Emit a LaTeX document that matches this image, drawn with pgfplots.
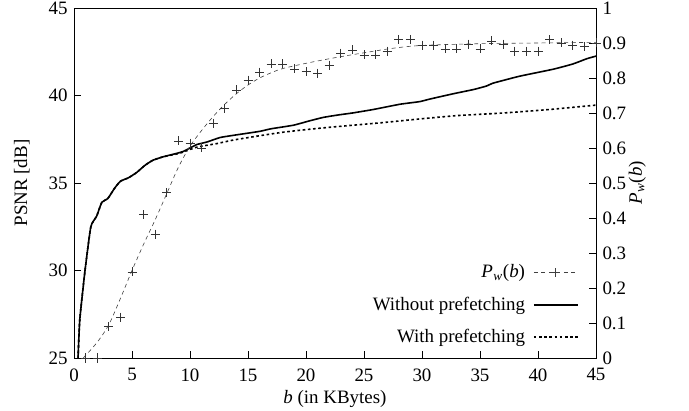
\documentclass[border=0pt]{standalone}
\usepackage{fontspec}
\setmainfont{Liberation Serif}
\usepackage{pgfplots}
\pgfplotsset{compat=1.18}
\newcommand{\Pw}{\textit{P}\kern0.3pt\textsubscript{\textit{w}}\kern0.3pt(\textit{b})}

% PSNR without prefetching
\pgfplotstableread{
x y
0.35 25
0.5 27.2
0.95 30.0
1.45 32.5
1.95 33.1
2.4 33.9
2.9 34.1
3.5 34.7
4 35.1
4.7 35.3
5.4 35.6
6.1 36.0
6.8 36.3
7.7 36.5
8.9 36.7
9.4 36.8
10 37.0
10.6 37.2
11.5 37.35
12.6 37.6
14 37.75
16 37.95
17 38.1
18.9 38.3
20.3 38.55
21.5 38.75
22.9 38.9
24 39.0
25.8 39.2
28.1 39.5
29.8 39.65
30.7 39.8
32.7 40.1
34.5 40.35
35.6 40.55
36.1 40.7
38.4 41.1
41.3 41.5
43 41.8
44.2 42.1
45 42.25
}\without

% PSNR with prefetching
\pgfplotstableread{
x y
0.35 25
0.5 27.2
0.95 30.0
1.45 32.5
1.95 33.1
2.4 33.9
2.9 34.1
3.5 34.7
4 35.1
4.7 35.3
5.4 35.6
6.1 36.0
6.8 36.3
7.7 36.5
9.1 36.7
10.6 37.05
12.3 37.25
13.7 37.45
16 37.7
18 37.9
20 38.05
22.3 38.2
26.6 38.45
29.8 38.66
33 38.85
37 39.0
41 39.2
45 39.45
}\with

% P_w(b) measured
\pgfplotstableread{
x y
1 0
2 0
3 0.089
4 0.117
5 0.246
6 0.409
7 0.354
8 0.472
9 0.62
10 0.614
11 0.60
12 0.67
13 0.713
14 0.766
15 0.794
16 0.817
17 0.84
18 0.84
19 0.826
20 0.818
21 0.814
22 0.837
23 0.871
24 0.88
25 0.866
26 0.866
27 0.877
28 0.91
29 0.91
30 0.894
31 0.894
32 0.883
33 0.883
34 0.897
35 0.883
36 0.906
37 0.897
38 0.877
39 0.877
40 0.877
41 0.909
42 0.9
43 0.894
44 0.889
45 0.9
}\pwmarks

% P_w(b) fitted curve
\pgfplotstableread{
x y
0.8 0
2 0.045
3 0.095
4 0.17
5 0.25
6 0.325
7 0.395
8 0.47
9 0.545
10 0.605
11 0.65
12 0.69
13 0.725
14 0.755
15 0.78
16 0.80
17 0.815
18 0.827
20 0.842
22.5 0.858
25 0.872
27.5 0.885
30 0.893
35 0.898
40 0.9
45 0.902
}\pwfit

\begin{document}
\fontsize{19}{22}\selectfont
\begin{tikzpicture}
\useasboundingbox (-74bp,-53bp) rectangle (615bp,358bp);
\pgfplotsset{
  every axis/.append style={
    scale only axis, width=522bp, height=350bp,
    at={(0,0)}, anchor=south west,
    xmin=0, xmax=45,
    tick align=inside,
    major tick length=7bp,
    axis line style={line width=0.9bp},
    every tick/.style={black, line width=0.8bp},
    /pgf/number format/assume math mode=true,
    tick label style={font=\fontsize{19}{22}\selectfont},
    label style={font=\fontsize{19}{22}\selectfont},
  },
}
\begin{axis}[
  ymin=25, ymax=45,
  xtick={0,5,...,45},
  ytick={25,30,...,45},
  xtick pos=bottom,
  ytick pos=left,
  x tick label style={yshift=-4bp},
  xlabel={\textit{b} (in KBytes)},
  ylabel={PSNR [dB]},
  x label style={at={(rel axis cs:0.5,-0.118)}, anchor=center},
  y label style={at={(rel axis cs:-0.1,0.5)}, anchor=center},
]
\addplot[black, line width=1.6bp, smooth, tension=0.3] table {\without};
\addplot[black, line width=1.6bp, dash pattern=on 2.6bp off 2.6bp, smooth, tension=0.3] table {\with};
\end{axis}
\begin{axis}[
  ymin=0, ymax=1,
  hide x axis,
  axis y line*=right,
  ytick={0,0.1,0.2,0.3,0.4,0.5,0.6,0.7,0.8,0.9,1},
  ylabel={\Pw},
  y label style={at={(rel axis cs:1.079,0.5)}, anchor=center},
  legend cell align=right,
  legend plot pos=right,
  legend style={draw=none, fill=none, at={(0.969,0.028)}, anchor=south east,
    inner sep=1bp, row sep=12bp, column sep=6bp, font=\fontsize{19}{22}\selectfont},
  legend image code/.code={
    \draw[mark repeat=2, mark phase=2, #1] plot coordinates {(0bp,0bp) (22bp,0bp) (44bp,0bp)};
  },
]
\addplot[black!75, line width=0.6bp, dash pattern=on 4bp off 3.5bp, smooth, forget plot] table {\pwfit};
\addplot[black!80, only marks, mark=+, mark size=4.5bp, mark options={line width=0.7bp}, forget plot] table {\pwmarks};
\addlegendimage{black!75, line width=0.6bp, dash pattern=on 4bp off 3.5bp, mark=+, mark size=4.5bp, mark options={solid, line width=0.7bp}}
\addlegendentry{\Pw}
\addlegendimage{black, line width=1.6bp}
\addlegendentry{Without prefetching}
\addlegendimage{black, line width=1.6bp, dash pattern=on 2.6bp off 2.6bp}
\addlegendentry{With prefetching}
\end{axis}
\end{tikzpicture}
\end{document}
